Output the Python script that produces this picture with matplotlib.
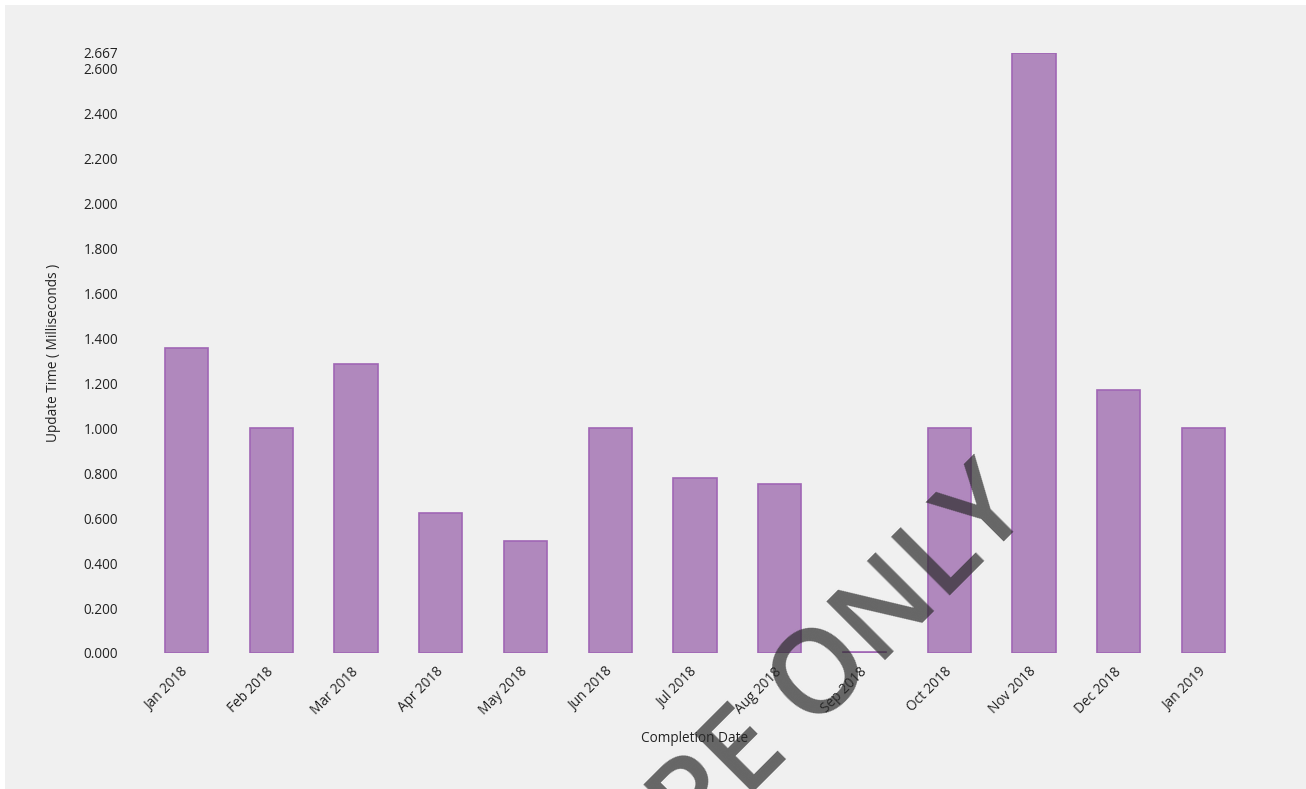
import matplotlib
matplotlib.use("Agg")
import matplotlib.pyplot as plt
from matplotlib.patches import Rectangle

categories = ["Jan 2018", "Feb 2018", "Mar 2018", "Apr 2018", "May 2018", "Jun 2018",
              "Jul 2018", "Aug 2018", "Sep 2018", "Oct 2018", "Nov 2018", "Dec 2018", "Jan 2019"]
values = [1.357, 1.000, 1.284, 0.622, 0.500, 1.000, 0.778, 0.750, 0.005, 1.000, 2.667, 1.167, 1.000]
yticks = [0.0, 0.2, 0.4, 0.6, 0.8, 1.0, 1.2, 1.4, 1.6, 1.8, 2.0, 2.2, 2.4, 2.6, 2.667]

plt.rcParams['font.family'] = ['Open Sans', 'DejaVu Sans']

W, H = 1306, 789
fig = plt.figure(figsize=(W / 100, H / 100), dpi=100, facecolor="white")
# grey panel (white strip top and left)
fig.patches.append(Rectangle((5 / W, 0), 1 - 5 / W, 1 - 5 / H, transform=fig.transFigure,
                             facecolor="#f0f0f0", edgecolor="none", zorder=-10))

left, right = 144 / W, 1246 / W
top, bottom = 1 - 53 / H, 1 - 653 / H
ax = fig.add_axes([left, bottom, right - left, top - bottom])
ax.set_facecolor("none")

x = list(range(len(categories)))
ax.bar(x, values, width=0.51, color="#b088bd", edgecolor="#a066b5", linewidth=1.2, zorder=2)

ax.set_xlim(-0.5, len(categories) - 0.5)
ax.set_ylim(0, max(values))
ax.set_yticks(yticks)
ax.set_yticklabels([f"{v:.3f}" for v in yticks], fontsize=9.8, color="#222222")
ax.set_xticks(x)
ax.set_xticklabels(categories, rotation=45, ha="right", va="center", rotation_mode="anchor",
                   fontsize=9.8, color="#222222")
ax.tick_params(axis="y", length=0, pad=18.5)
ax.tick_params(axis="x", length=0, pad=12)
for s in ax.spines.values():
    s.set_visible(False)

ax.set_ylabel("Update Time ( Milliseconds )", fontsize=9.8, color="#222222", labelpad=16)
ax.set_xlabel("Completion Date", fontsize=9.8, color="#222222", labelpad=9)

# watermark
fig.text(1034 / W, 1 - 512 / H, "PROTOTYPE ONLY", fontsize=84, fontweight="semibold",
         rotation=45, rotation_mode="anchor", ha="right", va="baseline",
         color="#2b2b2b", alpha=0.7, zorder=10)

fig.savefig("out.png", dpi=100, facecolor=fig.get_facecolor())
